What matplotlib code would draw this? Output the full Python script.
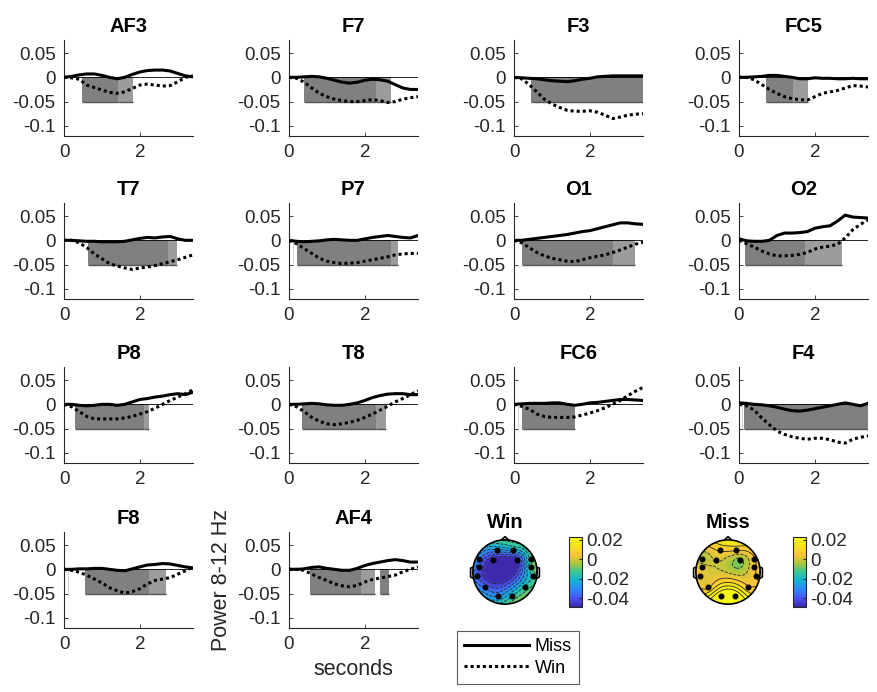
import numpy as np
import matplotlib
matplotlib.use("Agg")
import matplotlib.pyplot as plt
from matplotlib.colors import LinearSegmentedColormap, Normalize
from matplotlib.cm import ScalarMappable
from matplotlib.lines import Line2D

# === Data ===
t = [0.0, 0.2, 0.4, 0.6, 0.8, 1.0, 1.2, 1.4, 1.6, 1.8,
     2.0, 2.2, 2.4, 2.6, 2.8, 3.0, 3.2, 3.4]

miss_af3 = [0, .002, .005, .007, .007, .004, 0, -.003, 0, .006, .011, .014, .015, .015, .013, .008, .003, .001]
win_af3 = [0, -.001, -.004, -.016, -.021, -.026, -.031, -.033, -.030, -.023, -.016, -.014, -.016, -.018, -.017, -.009, 0, .003]
miss_f7 = [0, 0, .001, .002, .001, -.002, -.006, -.010, -.012, -.010, -.006, -.004, -.005, -.008, -.015, -.022, -.025, -.025]
win_f7 = [0, -.002, -.010, -.022, -.033, -.040, -.045, -.048, -.050, -.050, -.048, -.046, -.048, -.052, -.050, -.045, -.042, -.040]
miss_f3 = [0, -.001, -.002, -.003, -.005, -.007, -.008, -.009, -.007, -.004, -.002, .001, .002, .003, .003, .003, .003, .003]
win_f3 = [0, -.003, -.015, -.030, -.045, -.055, -.062, -.068, -.070, -.070, -.069, -.072, -.078, -.085, -.082, -.078, -.076, -.075]
miss_fc5 = [0, 0, .001, .002, .004, .004, .002, 0, -.003, -.003, -.001, -.002, -.002, -.003, -.003, -.002, -.003, -.003]
win_fc5 = [0, 0, -.005, -.015, -.025, -.033, -.040, -.044, -.046, -.047, -.040, -.033, -.030, -.027, -.022, -.017, -.018, -.020]
miss_t7 = [0, 0, -.001, -.002, -.002, -.003, -.003, -.003, -.002, .001, .004, .006, .005, .007, .008, .003, 0, 0]
win_t7 = [0, 0, -.005, -.015, -.028, -.038, -.048, -.053, -.057, -.060, -.057, -.055, -.052, -.048, -.044, -.040, -.035, -.030]
miss_p7 = [0, -.002, -.003, -.002, -.001, .001, .002, .001, 0, 0, .003, .006, .008, .010, .008, .006, .005, .010]
win_p7 = [0, -.007, -.017, -.027, -.037, -.043, -.046, -.048, -.047, -.046, -.043, -.040, -.037, -.034, -.030, -.028, -.027, -.027]
miss_o1 = [0, 0, .002, .004, .006, .008, .010, .012, .015, .018, .020, .024, .028, .032, .036, .036, .034, .033]
win_o1 = [0, -.005, -.015, -.025, -.032, -.037, -.040, -.043, -.044, -.040, -.036, -.033, -.030, -.025, -.020, -.014, -.008, -.004]
miss_o2 = [.003, -.001, -.002, -.002, 0, .010, .015, .015, .016, .018, .025, .028, .030, .040, .052, .048, .047, .046]
win_o2 = [0, -.007, -.014, -.022, -.028, -.032, -.032, -.031, -.029, -.025, -.018, -.014, -.012, -.008, .005, .022, .033, .042]
miss_p8 = [0, 0, -.002, -.003, -.002, 0, 0, -.002, 0, .005, .010, .012, .015, .017, .020, .022, .020, .025]
win_p8 = [0, -.005, -.015, -.025, -.030, -.030, -.030, -.030, -.028, -.025, -.020, -.015, -.008, 0, .008, .015, .022, .030]
miss_t8 = [0, 0, .001, .002, .001, -.001, -.002, -.002, 0, .003, .008, .014, .018, .021, .022, .022, .020, .020]
win_t8 = [0, -.005, -.015, -.027, -.035, -.040, -.042, -.040, -.037, -.033, -.027, -.020, -.012, -.004, .005, .012, .020, .028]
miss_fc6 = [0, .001, .002, .002, .002, .003, .003, 0, -.002, 0, .003, .004, .006, .008, .010, .010, .009, .008]
win_fc6 = [0, -.004, -.010, -.020, -.025, -.027, -.027, -.027, -.026, -.022, -.018, -.013, -.007, 0, .008, .018, .027, .035]
miss_f4 = [.003, .002, 0, -.001, -.003, -.006, -.010, -.013, -.014, -.012, -.009, -.006, -.003, 0, .003, 0, -.003, .002]
win_f4 = [0, -.003, -.012, -.028, -.042, -.055, -.062, -.067, -.070, -.072, -.070, -.070, -.073, -.078, -.080, -.072, -.068, -.065]
miss_f8 = [0, 0, .001, .001, .002, .002, 0, -.002, -.003, .001, .005, .009, .010, .012, .011, .008, .005, .003]
win_f8 = [0, -.002, -.006, -.012, -.020, -.028, -.038, -.044, -.049, -.046, -.040, -.030, -.023, -.020, -.017, -.010, -.003, .005]
miss_af4 = [0, 0, .001, .004, .005, .002, 0, -.002, -.002, .002, .008, .012, .015, .018, .020, .018, .015, .015]
win_af4 = [0, 0, -.002, -.010, -.017, -.023, -.030, -.034, -.036, -.033, -.026, -.021, -.018, -.015, -.012, -.005, 0, .005]

# significant intervals: (start s, end s, level)  1 = strong, 2 = weaker, 3 = marginal
sig_af3 = [(0.47, 1.42, 1), (1.42, 1.82, 2)]
sig_f7 = [(0.40, 2.30, 1), (2.30, 2.70, 2)]
sig_f3 = [(0.44, 3.40, 1)]
sig_fc5 = [(0.72, 1.42, 1), (1.42, 1.82, 2)]
sig_t7 = [(0.63, 2.75, 1), (2.75, 2.97, 2)]
sig_p7 = [(0.10, 0.12, 3), (0.22, 2.70, 1), (2.70, 2.88, 2)]
sig_o1 = [(0.20, 2.60, 1), (2.60, 3.20, 2)]
sig_o2 = [(0.04, 0.06, 3), (0.15, 1.75, 1), (1.75, 2.71, 2)]
sig_p8 = [(0.30, 2.10, 1), (2.10, 2.25, 2)]
sig_t8 = [(0.35, 2.30, 1), (2.30, 2.55, 2)]
sig_fc6 = [(0.10, 0.12, 3), (0.20, 1.60, 1)]
sig_f4 = [(0.04, 0.06, 3), (0.09, 0.11, 3), (0.12, 3.40, 1)]
sig_f8 = [(0.10, 0.12, 3), (0.55, 2.25, 1), (2.25, 2.68, 2)]
sig_af4 = [(0.55, 1.90, 1), (1.90, 2.26, 2), (2.39, 2.64, 1)]

channels = ["AF3", "F7", "F3", "FC5", "T7", "P7", "O1", "O2",
            "P8", "T8", "FC6", "F4", "F8", "AF4"]
miss_all = [miss_af3, miss_f7, miss_f3, miss_fc5, miss_t7, miss_p7, miss_o1, miss_o2,
            miss_p8, miss_t8, miss_fc6, miss_f4, miss_f8, miss_af4]
win_all = [win_af3, win_f7, win_f3, win_fc5, win_t7, win_p7, win_o1, win_o2,
           win_p8, win_t8, win_fc6, win_f4, win_f8, win_af4]
sig_all = [sig_af3, sig_f7, sig_f3, sig_fc5, sig_t7, sig_p7, sig_o1, sig_o2,
           sig_p8, sig_t8, sig_fc6, sig_f4, sig_f8, sig_af4]

# topography (mean power per electrode)
topo_names = ["AF3", "AF4", "F7", "F8", "F3", "F4", "FC5", "FC6", "T7", "T8", "P7", "P8", "O1", "O2"]
topo_x = [-0.26, 0.26, -0.80, 0.80, -0.36, 0.36, -0.82, 0.82, -0.86, 0.86, -0.62, 0.62, -0.22, 0.22]
topo_y = [0.68, 0.68, 0.40, 0.40, 0.38, 0.38, 0.16, 0.16, -0.12, -0.12, -0.48, -0.48, -0.74, -0.74]
topo_win = [-0.030, -0.025, -0.034, -0.014, -0.052, -0.050, -0.038, -0.012, -0.040, -0.016, -0.036, -0.016, -0.030, -0.018]
topo_miss = [0.006, 0.006, -0.004, 0.004, 0.000, -0.008, 0.002, 0.004, 0.003, 0.005, 0.004, 0.006, 0.030, 0.030]
cbar_ticks = [0.02, 0, -0.02, -0.04]

# === Styling ===
plt.rcParams.update({
    "font.family": ["Liberation Sans", "DejaVu Sans"],
    "axes.unicode_minus": False,
    "font.size": 13,
})
tc = "#262626"
shade = {1: "#808080", 2: "#9c9c9c", 3: "#d4d4d4"}

parula = LinearSegmentedColormap.from_list("parula", [
    (0.2422, 0.1504, 0.6603), (0.2810, 0.3228, 0.9579), (0.1786, 0.5289, 0.9682),
    (0.0689, 0.6948, 0.8394), (0.2161, 0.7843, 0.5923), (0.6720, 0.7793, 0.2227),
    (0.9970, 0.7659, 0.2199), (0.9598, 0.8870, 0.1059), (0.9769, 0.9839, 0.0805)])

W, H = 877, 692
fig = plt.figure(figsize=(W / 100, H / 100), dpi=100)


def rect(l, top, w, h):
    return [l / W, 1 - (top + h) / H, w / W, h / H]


lefts = [64, 289, 514, 739]
tops = [40, 203, 367, 532]

for i, name in enumerate(channels):
    r, c = divmod(i, 4)
    ax = fig.add_axes(rect(lefts[c], tops[r], 129, 96))
    for (s, e, lev) in sig_all[i]:
        ax.bar(s, -0.05, width=e - s, align="edge", color=shade[lev], linewidth=0, zorder=1)
        if lev < 3:
            ax.hlines(-0.05, s, e, color="#555555", lw=1.0, zorder=1.5)
    ax.axhline(0, color="k", lw=0.6, zorder=2)
    ax.plot(t, miss_all[i], color="k", lw=2.2, zorder=3)
    ax.plot(t, win_all[i], color="k", lw=2.2, ls=(0, (1, 1)), zorder=3)
    ax.set_xlim(0, 3.4)
    ax.set_ylim(-0.121, 0.077)
    ax.set_xticks([0, 2])
    ax.set_yticks([-0.1, -0.05, 0, 0.05])
    ax.set_yticklabels(["-0.1", "-0.05", "0", "0.05"])
    ax.set_title(name, fontsize=14.5, fontweight="bold", pad=6)
    for sp in ["top", "right"]:
        ax.spines[sp].set_visible(False)
    for sp in ["left", "bottom"]:
        ax.spines[sp].set_color(tc)
        ax.spines[sp].set_linewidth(0.8)
    ax.tick_params(direction="in", length=3, width=0.6, colors=tc, labelsize=13.5, pad=6)
    if name == "AF4":
        ax.set_ylabel("Power 8-12 Hz", fontsize=15.5, color=tc, labelpad=4)
        ax.set_xlabel("seconds", fontsize=15.5, color=tc, labelpad=4)


def green(d):
    out = np.zeros_like(d)
    m = d > 0
    out[m] = d[m] ** 2 * (np.log(d[m]) - 1)
    return out


def topo(cx, cy, title, vals, cbx):
    ax = fig.add_axes(rect(cx - 45, cy - 45, 90, 90))
    xe, ye, v = np.array(topo_x), np.array(topo_y), np.array(vals)
    wts = np.linalg.solve(green(np.hypot(xe[:, None] - xe, ye[:, None] - ye)), v)
    g = np.linspace(-1, 1, 151)
    gx, gy = np.meshgrid(g, g)
    d = np.hypot(gx.ravel()[:, None] - xe, gy.ravel()[:, None] - ye)
    z = (green(d) @ wts).reshape(gx.shape)
    z = np.clip(z, -0.049, 0.023)
    z[np.hypot(gx, gy) > 1] = np.nan
    ax.contourf(gx, gy, z, levels=np.linspace(-0.049, 0.023, 60), cmap=parula)
    ax.contour(gx, gy, z, levels=np.linspace(-0.046, 0.022, 13), colors="#2a2a2a", linewidths=0.6)
    th = np.linspace(0, 2 * np.pi, 200)
    ax.plot(np.cos(th), np.sin(th), color="k", lw=1.2)
    ax.plot([-0.12, 0, 0.12], [0.99, 1.1, 0.99], color="k", lw=1.2)
    for sgn in (-1, 1):
        ax.plot([sgn * 0.99, sgn * 1.07, sgn * 1.07, sgn * 0.99], [0.15, 0.12, -0.15, -0.2], color="k", lw=1.2)
    ax.plot(xe, ye, "o", color="k", ms=3.3)
    ax.set_xlim(-1.4, 1.4)
    ax.set_ylim(-1.4, 1.4)
    ax.axis("off")
    fig.text(cx / W, 1 - 522 / H, title, ha="center", va="center", fontsize=14.5, fontweight="bold")
    cax = fig.add_axes(rect(cbx, 537, 13, 70))
    cb = fig.colorbar(ScalarMappable(Normalize(-0.049, 0.023), parula), cax=cax, ticks=cbar_ticks)
    cb.ax.set_yticklabels(["0.02", "0", "-0.02", "-0.04"])
    cb.ax.tick_params(direction="in", length=2, colors=tc, labelsize=13.5, pad=3)
    cb.outline.set_linewidth(0.8)
    cb.outline.set_edgecolor(tc)


topo(505, 572, "Win", topo_win, 569)
topo(728, 572, "Miss", topo_miss, 793)

handles = [Line2D([], [], color="k", lw=2.2), Line2D([], [], color="k", lw=2.2, ls=(0, (1, 1)))]
leg = fig.legend(handles, ["Miss", "Win"], loc="upper left", bbox_to_anchor=(457 / W, 1 - 631 / H),
                 frameon=True, fancybox=False, fontsize=13, handlelength=3.6, handletextpad=0.3,
                 borderpad=0.4, labelspacing=0.25, borderaxespad=0)
leg.get_frame().set_edgecolor("#333333")
leg.get_frame().set_linewidth(0.8)

fig.savefig("out.png", dpi=100)
